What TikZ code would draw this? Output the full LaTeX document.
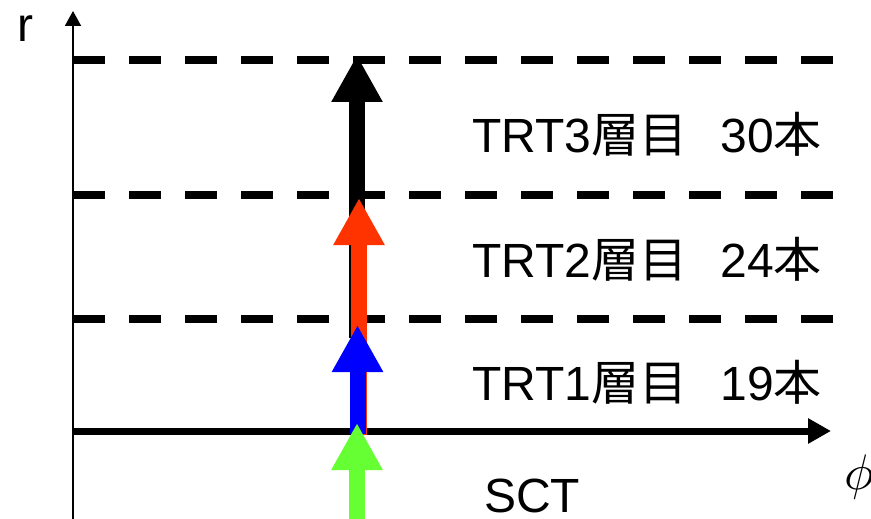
\documentclass[tikz,border=0pt]{standalone}
\usepackage{fontspec}
\setmainfont{Liberation Sans}
\newfontfamily\jp{Noto Sans CJK JP}
\usetikzlibrary{arrows.meta}
\definecolor{sctgreen}{HTML}{66FF33}
\definecolor{trtred}{HTML}{FF3300}
\definecolor{trtblue}{HTML}{0000FF}
\begin{document}
\begin{tikzpicture}[x=1pt,y=-1pt,
  lbl/.style={anchor=base west,inner sep=0pt,font=\fontsize{48}{56}\selectfont},
  layer/.style={line width=7.5pt,dash pattern=on 32pt off 24pt},
  trk/.style={line width=16pt,-{Triangle[length=47pt,width=48pt]}}]
\useasboundingbox (0,0) rectangle (871,519);
% layer boundaries
\coordinate (d1a) at (73,60);  \coordinate (d1b) at (833,60);
\coordinate (d2a) at (73,195); \coordinate (d2b) at (833,195);
\coordinate (d3a) at (73,319); \coordinate (d3b) at (833,319);
\draw[layer] (d1a) -- (d1b);
\draw[layer] (d2a) -- (d2b);
\draw[layer] (d3a) -- (d3b);
% axes
\coordinate (o) at (73,519); \coordinate (rtip) at (73,11);
\coordinate (h0) at (73,431); \coordinate (htip) at (831,431);
\draw[line width=2pt,-{Triangle[length=15pt,width=16pt]}] (o) -- (rtip);
\draw[line width=7pt,-{Triangle[length=23pt,width=24pt]}] (h0) -- (htip);
% track arrows
\coordinate (k0) at (357,338); \coordinate (k1) at (357,55);
\coordinate (r0) at (359,435); \coordinate (r1) at (359,198);
\coordinate (b0) at (357.5,434); \coordinate (b1) at (357.5,325);
\coordinate (g0) at (357,519); \coordinate (g1) at (357,423);
\draw[trk,black] (k0) -- (k1);
\draw[trk,trtred] (r0) -- (r1);
\draw[trk,trtblue] (b0) -- (b1);
\draw[trk,sctgreen] (g0) -- (g1);
% labels
\node[lbl] (rl) at (17,42) {r};
\node[anchor=base west,inner sep=0pt,scale=5] (phi) at (843,489) {$\phi$};
\node[lbl] (t3) at (472,153) {TRT3{\jp 層目}\hspace{33pt}30{\jp 本}};
\node[lbl] (t2) at (472,277) {TRT2{\jp 層目}\hspace{33pt}24{\jp 本}};
\node[lbl] (t1) at (472,400) {TRT1{\jp 層目}\hspace{33pt}19{\jp 本}};
\node[lbl] (sct) at (484,512) {SCT};
\end{tikzpicture}
\end{document}
